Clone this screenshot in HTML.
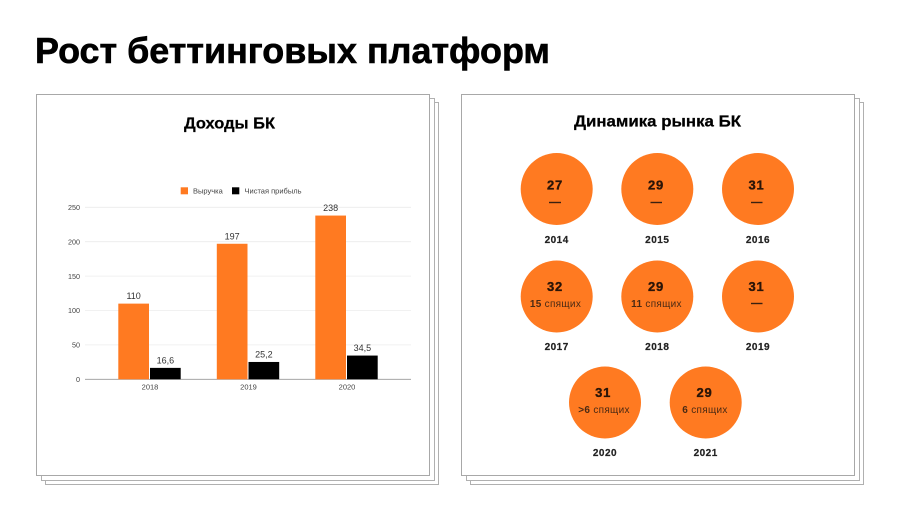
<!DOCTYPE html>
<html lang="ru">
<head>
<meta charset="utf-8">
<title>Рост беттинговых платформ</title>
<style>
html,body{margin:0;padding:0;background:#fff;width:900px;height:506px;overflow:hidden}
svg{display:block}
text{font-family:"Liberation Sans","Noto Sans CJK SC",sans-serif}
.card{fill:#fff;stroke:#a8a8a8;stroke-width:1}
.back{stroke:#b0b0b0}
.big{font-size:13px;font-weight:700;fill:#2a1508;stroke:#2a1508;stroke-width:.35;letter-spacing:.8px;text-anchor:middle}
.sub{font-size:10px;fill:#4a2a14;text-anchor:middle;letter-spacing:.3px}
.yr{font-size:10px;font-weight:700;fill:#222;stroke:#222;stroke-width:.2;text-anchor:middle;letter-spacing:.5px}
.dash{stroke:#3a2010;stroke-width:1.4}
.dot{fill:#ff7a21}
</style>
</head>
<body>
<svg id="slide" xmlns="http://www.w3.org/2000/svg" width="900" height="506" viewBox="0 0 900 506">
  <text x="35" y="63" font-size="36" font-weight="700" fill="#000" stroke="#000" stroke-width=".6" textLength="515" lengthAdjust="spacingAndGlyphs">Рост беттинговых платформ</text>

  <g>
    <rect class="card back" x="45.5" y="102.5" width="393" height="382"/>
    <rect class="card back" x="41.5" y="98.5" width="393" height="382"/>
    <rect class="card" x="36.5" y="94.5" width="393" height="381"/>
  </g>
  <g>
    <rect class="card back" x="470.5" y="102.5" width="393" height="382"/>
    <rect class="card back" x="466.5" y="98.5" width="393" height="382"/>
    <rect class="card" x="461.5" y="94.5" width="393" height="381"/>
  </g>

  <text x="184" y="128.5" font-size="16" font-weight="700" fill="#000" stroke="#000" stroke-width=".25" textLength="91" lengthAdjust="spacingAndGlyphs">Доходы БК</text>
  <text x="574" y="126.5" font-size="16" font-weight="700" fill="#000" stroke="#000" stroke-width=".25" textLength="167" lengthAdjust="spacingAndGlyphs">Динамика рынка БК</text>

  <g id="chart"></g>

  <g>
    <g>
      <circle class="dot" cx="556.7" cy="189" r="36"/>
      <text class="big" x="555" y="189.5">27</text>
      <line class="dash" x1="549" x2="561" y1="202.5" y2="202.5"/>
      <text class="yr" x="556.7" y="243">2014</text>
    </g>
    <g>
      <circle class="dot" cx="657.3" cy="189" r="36"/>
      <text class="big" x="656" y="189.5">29</text>
      <line class="dash" x1="650.5" x2="662" y1="202.5" y2="202.5"/>
      <text class="yr" x="657.3" y="243">2015</text>
    </g>
    <g>
      <circle class="dot" cx="758" cy="189" r="36"/>
      <text class="big" x="756.5" y="189.5">31</text>
      <line class="dash" x1="751" x2="762.5" y1="202.5" y2="202.5"/>
      <text class="yr" x="758" y="243">2016</text>
    </g>
    <g>
      <circle class="dot" cx="556.7" cy="296.5" r="36"/>
      <text class="big" x="555" y="291">32</text>
      <text class="sub" x="555.5" y="307"><tspan font-weight="700">15</tspan> спящих</text>
      <text class="yr" x="556.7" y="350">2017</text>
    </g>
    <g>
      <circle class="dot" cx="657.3" cy="296.5" r="36"/>
      <text class="big" x="656" y="291">29</text>
      <text class="sub" x="656.5" y="307"><tspan font-weight="700">11</tspan> спящих</text>
      <text class="yr" x="657.3" y="350">2018</text>
    </g>
    <g>
      <circle class="dot" cx="758" cy="296.5" r="36"/>
      <text class="big" x="756.5" y="291">31</text>
      <line class="dash" x1="751" x2="762.5" y1="303.5" y2="303.5"/>
      <text class="yr" x="758" y="350">2019</text>
    </g>
    <g>
      <circle class="dot" cx="605" cy="402.5" r="36"/>
      <text class="big" x="603.2" y="397">31</text>
      <text class="sub" x="604" y="413"><tspan font-weight="700">&gt;6</tspan> спящих</text>
      <text class="yr" x="605" y="456">2020</text>
    </g>
    <g>
      <circle class="dot" cx="705.7" cy="402.5" r="36"/>
      <text class="big" x="704.5" y="397">29</text>
      <text class="sub" x="705" y="413"><tspan font-weight="700">6</tspan> спящих</text>
      <text class="yr" x="705.7" y="456">2021</text>
    </g>
  </g>
</svg>
<script>
const categories = ['2018', '2019', '2020'];
const revenue = [110, 197, 238];
const profit = [16.6, 25.2, 34.5];
const revenueLabels = ['110', '197', '238'];
const profitLabels = ['16,6', '25,2', '34,5'];
const yTicks = [0, 50, 100, 150, 200, 250];
const seriesNames = ['Выручка', 'Чистая прибыль'];

const NS = 'http://www.w3.org/2000/svg';
const chart = document.getElementById('chart');
const ORANGE = '#ff7a21';
const BLACK = '#000000';
const baseY = 379.3, topY = 207.3, yMax = 250;
const plotLeft = 85, plotRight = 411;
const firstCenter = 149.5, step = 98.5, barW = 30.7;

function yScale(v) { return baseY - (v / yMax) * (baseY - topY); }
function xCenter(i) { return firstCenter + step * i; }
function make(tag, attrs, text) {
  const el = document.createElementNS(NS, tag);
  for (const k in attrs) el.setAttribute(k, attrs[k]);
  if (text !== undefined) el.textContent = text;
  chart.appendChild(el);
  return el;
}

yTicks.forEach(function (t) {
  if (t !== 0) {
    const grid = make('line', { x1: plotLeft, x2: plotRight, y1: yScale(t), y2: yScale(t), stroke: '#ececec', 'stroke-width': 0.8 });
    
    
  }
  const lab = make('text', { x: 80, y: yScale(t) + 2.7, 'font-size': 7.2, fill: '#444', 'text-anchor': 'end' }, String(t));
  
  
});

const axis = make('line', { x1: plotLeft, x2: plotRight, y1: baseY, y2: baseY, stroke: '#999', 'stroke-width': 0.8 });



categories.forEach(function (c, i) {
  const cx = xCenter(i);
  const barA = make('rect', { x: cx - barW - 0.5, y: yScale(revenue[i]), width: barW, height: baseY - yScale(revenue[i]), fill: ORANGE });
  
  
  const barB = make('rect', { x: cx + 0.5, y: yScale(profit[i]), width: barW, height: baseY - yScale(profit[i]), fill: BLACK });
  
  
  const valA = make('text', { x: cx - barW / 2 - 0.5, y: yScale(revenue[i]) - 4.5, 'font-size': 9, fill: '#333', 'text-anchor': 'middle' }, revenueLabels[i]);
  
  
  const valB = make('text', { x: cx + barW / 2 + 0.5, y: yScale(profit[i]) - 4.5, 'font-size': 9, fill: '#333', 'text-anchor': 'middle' }, profitLabels[i]);
  
  
  const xl = make('text', { x: cx + 0.5, y: 389.5, 'font-size': 7.5, fill: '#444', 'text-anchor': 'middle' }, c);
  
  
});

const sw1 = make('rect', { x: 180.7, y: 187.3, width: 7.3, height: 7, fill: ORANGE });


const lg1 = make('text', { x: 193, y: 193.6, 'font-size': 7.5, fill: '#444' }, seriesNames[0]);


const sw2 = make('rect', { x: 232, y: 187.3, width: 7.3, height: 7, fill: BLACK });


const lg2 = make('text', { x: 244.5, y: 193.6, 'font-size': 7.5, fill: '#444' }, seriesNames[1]);


</script>
</body>
</html>
